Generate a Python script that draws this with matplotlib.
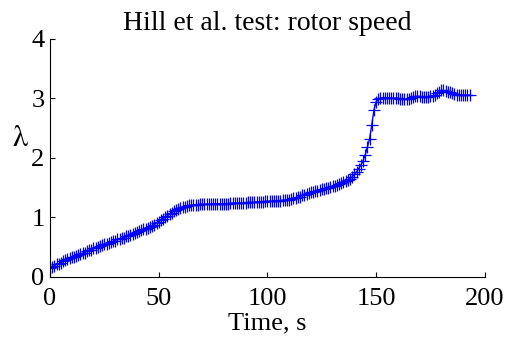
import matplotlib
matplotlib.use("Agg")
import matplotlib.pyplot as plt

time_s = list(range(0, 194))
rotor_speed = [
    0.15, 0.17, 0.19, 0.21, 0.22, 0.24, 0.26, 0.28, 0.30, 0.31,
    0.33, 0.34, 0.36, 0.37, 0.38, 0.40, 0.41, 0.43, 0.45, 0.46,
    0.48, 0.49, 0.50, 0.52, 0.53, 0.55, 0.56, 0.57, 0.58, 0.60,
    0.61, 0.63, 0.64, 0.65, 0.66, 0.68, 0.69, 0.71, 0.72, 0.74,
    0.75, 0.77, 0.78, 0.80, 0.81, 0.83, 0.84, 0.86, 0.88, 0.90,
    0.93, 0.95, 0.98, 1.00, 1.03, 1.05, 1.08, 1.10, 1.12, 1.14,
    1.16, 1.17, 1.18, 1.19, 1.20, 1.20, 1.21, 1.21, 1.21, 1.22,
    1.22, 1.22, 1.22, 1.22, 1.22, 1.23, 1.23, 1.23, 1.23, 1.23,
    1.23, 1.23, 1.23, 1.24, 1.24, 1.24, 1.24, 1.24, 1.24, 1.24,
    1.24, 1.25, 1.25, 1.25, 1.25, 1.26, 1.26, 1.26, 1.26, 1.27,
    1.27, 1.27, 1.27, 1.28, 1.28, 1.28, 1.28, 1.29, 1.29, 1.30,
    1.30, 1.31, 1.32, 1.33, 1.34, 1.35, 1.37, 1.38, 1.40, 1.41,
    1.42, 1.43, 1.44, 1.45, 1.46, 1.47, 1.48, 1.49, 1.50, 1.51,
    1.52, 1.53, 1.55, 1.56, 1.58, 1.59, 1.61, 1.63, 1.65, 1.68,
    1.72, 1.76, 1.82, 1.88, 1.95, 2.05, 2.18, 2.32, 2.55, 2.80,
    2.94, 2.98, 3.00, 3.01, 3.01, 3.01, 3.01, 3.00, 3.00, 3.00,
    3.00, 2.99, 2.99, 2.98, 2.98, 2.99, 3.01, 3.02, 3.03, 3.03,
    3.03, 3.02, 3.02, 3.02, 3.02, 3.03, 3.03, 3.05, 3.08, 3.11,
    3.13, 3.13, 3.12, 3.11, 3.10, 3.08, 3.07, 3.06, 3.06, 3.05,
    3.05, 3.05, 3.05, 3.05,
]
xticks = [0, 50, 100, 150, 200]
yticks = [0, 1, 2, 3, 4]

plt.rcParams['font.family'] = ['Liberation Serif', 'DejaVu Serif']
plt.rcParams['mathtext.fontset'] = 'stix'

fig = plt.figure(figsize=(5.05, 3.39), dpi=100)
ax = fig.add_axes([0.099, 0.183, 0.861, 0.703])
ax.plot(time_s, rotor_speed, '-+', color=(0, 0, 1), lw=1.0, ms=8, mew=0.9)
ax.set_xlim(0, 200)
ax.set_ylim(0, 4)
ax.set_xticks(xticks)
ax.set_yticks(yticks)
ax.spines['top'].set_visible(False)
ax.spines['right'].set_visible(False)
for s in ('left', 'bottom'):
    ax.spines[s].set_linewidth(0.8)
ax.tick_params(direction='in', length=3.5, width=0.8, labelsize=19)
ax.tick_params(axis='x', pad=8)
ax.tick_params(axis='y', pad=4)
ax.set_title('Hill et al. test: rotor speed', fontsize=20, pad=6)
ax.set_xlabel('Time, s', fontsize=19, labelpad=2)
ax.set_ylabel(r'$\mathrm{\lambda}$', fontsize=22, rotation=0)
ax.yaxis.set_label_coords(-0.068, 0.52)
fig.savefig('out.png', dpi=100)
